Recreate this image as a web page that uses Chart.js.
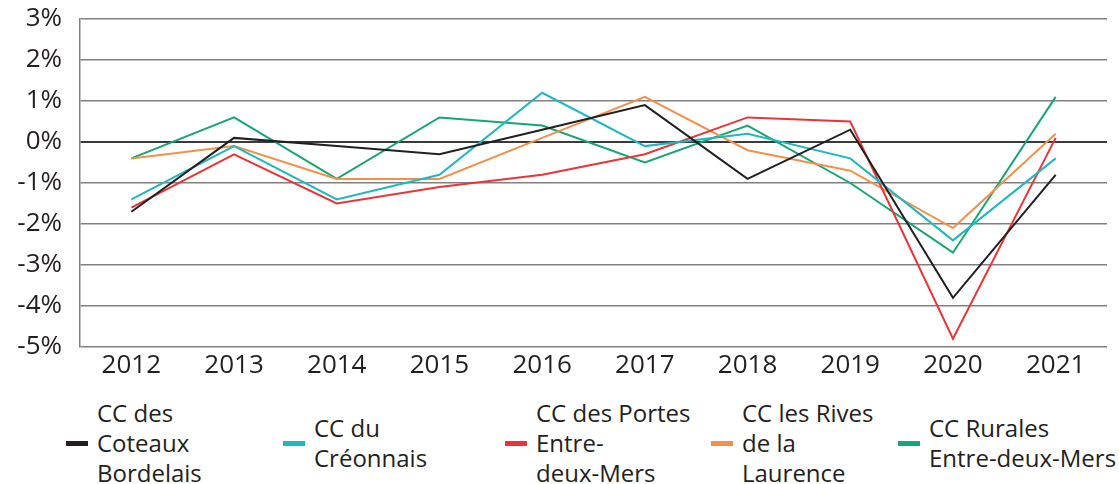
<!DOCTYPE html>
<html>
<head>
<meta charset="utf-8">
<script src="https://cdn.jsdelivr.net/npm/chart.js@4"></script>
<style>
  html, body { margin: 0; padding: 0; background: #fff; }
  body { width: 1119px; height: 484px; position: relative; overflow: hidden; font-family: "Open Sans", sans-serif; color: #231f20; }
  #wrap { position: absolute; left: 0; top: 0; width: 1119px; height: 393px; }
  .leg { position: absolute; display: flex; align-items: center; font-size: 24px; line-height: 30px; white-space: nowrap; }
  .leg i { display: inline-block; width: 22px; height: 5px; margin-right: 9px; flex: none; }
</style>
</head>
<body>
<div id="wrap"><canvas id="chart"></canvas></div>
<div id="legend"></div>
<script>
const years = ['2012', '2013', '2014', '2015', '2016', '2017', '2018', '2019', '2020', '2021'];
const yTicks = [-5, -4, -3, -2, -1, 0, 1, 2, 3];

const coteaux   = [-1.7, 0.1, -0.1, -0.3, 0.3, 0.9, -0.9, 0.3, -3.8, -0.8];
const creonnais = [-1.4, -0.1, -1.4, -0.8, 1.2, -0.1, 0.2, -0.4, -2.4, -0.4];
const portes    = [-1.6, -0.3, -1.5, -1.1, -0.8, -0.3, 0.6, 0.5, -4.8, 0.1];
const rives     = [-0.4, -0.1, -0.9, -0.9, 0.1, 1.1, -0.2, -0.7, -2.1, 0.2];
const rurales   = [-0.4, 0.6, -0.9, 0.6, 0.4, -0.5, 0.4, -1.0, -2.7, 1.1];

const names = [['CC des', 'Coteaux', 'Bordelais'], ['CC du', 'Créonnais'], ['CC des Portes', 'Entre-', 'deux-Mers'], ['CC les Rives', 'de la', 'Laurence'], ['CC Rurales', 'Entre-deux-Mers']];
const colors = ['#231f20', '#1fb8c1', '#ec3337', '#f5904a', '#17a673'];
const series = [coteaux, creonnais, portes, rives, rurales];

// legend placement (left edge of swatch)
const legendX = [66, 283, 505, 711, 898];

const $ = (id) => document.getElementById(id);

$('legend').innerHTML = names.map((n, i) => `
  <div class="leg" style="left:${legendX[i]}px; top:${n.length === 3 ? 398 : 413}px">
    <i style="background:${colors[i]}"></i><span>${n.join('<br>')}</span>
  </div>`).join('');

const ff = '"Open Sans", sans-serif';

new Chart($('chart'), {
  type: 'line',
  data: {
    labels: years,
    datasets: series.map((d, i) => ({
      label: names[i].join(' '),
      data: d,
      borderColor: colors[i],
      backgroundColor: colors[i],
      borderWidth: 2,
      pointRadius: 0,
      tension: 0,
      fill: false
    }))
  },
  options: {
    responsive: true,
    maintainAspectRatio: false,
    animation: false,
    layout: { padding: { left: 0, right: 12, top: 19, bottom: 0 } },
    plugins: { legend: { display: false }, tooltip: { enabled: false } },
    scales: {
      x: {
        offset: true,
        grid: { display: false },
        border: { display: false },
        ticks: { color: '#231f20', font: { family: ff, size: 26 }, padding: -5, maxRotation: 0 },
        afterFit: (s) => { s.height = 46; s.paddingLeft = 0; s.paddingRight = 0; }
      },
      y: {
        min: -5, max: 3,
        afterBuildTicks: (s) => { s.ticks = yTicks.map(v => ({ value: v })); },
        grid: {
          drawTicks: false,
          color: (c) => c.tick && c.tick.value === 0 ? '#3a3a3a' : '#808080',
          lineWidth: (c) => c.tick && c.tick.value === 0 ? 2 : 1.5
        },
        border: { display: true, color: '#808080', width: 1.5 },
        ticks: { color: '#231f20', font: { family: ff, size: 26 }, padding: 18, callback: (v) => v + '%' },
        afterFit: (s) => { s.width = 80; s.paddingTop = 0; s.paddingBottom = 0; }
      }
    }
  }
});
</script>
</body>
</html>
